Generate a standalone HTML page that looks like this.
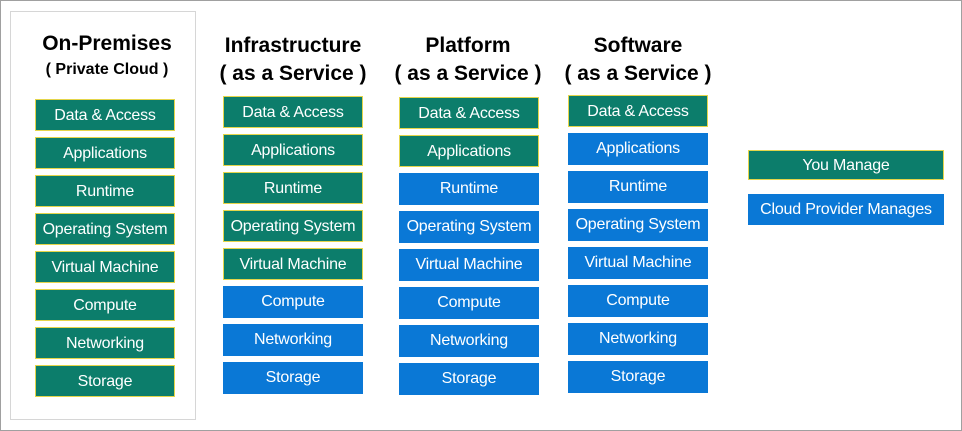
<!DOCTYPE html>
<html><head><style>
body{margin:0;width:962px;height:431px;position:relative;background:#fff;font-family:"Liberation Sans",sans-serif;overflow:hidden}
.frame{position:absolute;left:0;top:0;width:960px;height:429px;border:1px solid #a0a0a0}
.panel{position:absolute;left:10px;top:11px;width:184px;height:407px;border:1px solid #d6d6d6}
.b{position:absolute;width:140px;height:32px;box-sizing:border-box;color:#fff;font-size:16px;line-height:32px;text-align:center;white-space:nowrap;letter-spacing:-0.2px}
.g{background:#0c7d6b;border:1.5px solid #e4d54a}
.u{background:#0a78d6}
.h{position:absolute;font-weight:bold;text-align:center;color:#000;white-space:nowrap}
</style></head><body>
<div class="frame"></div>
<div class="panel"></div>
<div class="h" style="left:17px;width:180px;top:32px;font-size:21px">On-Premises</div>
<div class="h" style="left:17px;width:180px;top:61px;font-size:16px">( Private Cloud )</div>
<div class="h" style="left:203px;width:180px;top:32px;font-size:21px;line-height:28px">Infrastructure<br>( as a Service )</div>
<div class="h" style="left:378px;width:180px;top:32px;font-size:21px;line-height:28px">Platform<br>( as a Service )</div>
<div class="h" style="left:548px;width:180px;top:32px;font-size:21px;line-height:28px">Software<br>( as a Service )</div>
<div id="c"></div>
<div class="b g" style="left:748px;top:150px;width:196px;height:30px;line-height:30px">You Manage</div>
<div class="b u" style="left:748px;top:194px;width:196px;height:31px;line-height:31px">Cloud Provider Manages</div>
<script>
var names=["Data & Access","Applications","Runtime","Operating System","Virtual Machine","Compute","Networking","Storage"];
var cols=[[35,99,8],[223,96,5],[399,97,2],[568,95,1]];
var h="";
cols.forEach(function(c){for(var i=0;i<8;i++){h+='<div class="b '+(i<c[2]?'g':'u')+'" style="left:'+c[0]+'px;top:'+(c[1]+i*38)+'px">'+names[i].replace('&','&amp;')+'</div>';}});
document.getElementById('c').innerHTML=h;
</script>
</body></html>
